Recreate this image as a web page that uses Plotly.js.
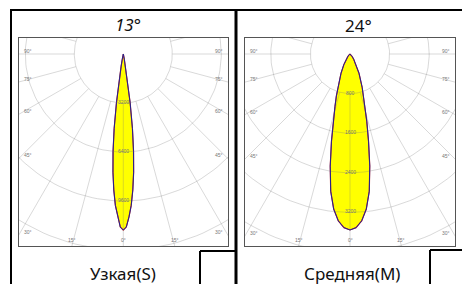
<!DOCTYPE html>
<html><head><meta charset="utf-8">
<script src="https://cdn.plot.ly/plotly-3.0.1.min.js"></script>
<style>html,body{margin:0;padding:0;background:#fff;}#chart{width:462px;height:284px;}</style>
</head><body><div id="chart"></div>
<script>
// ---- data ----
const beamTitles = ['13°', '24°'];
const beamNames = ['Узкая(S)', 'Средняя(M)'];
// narrow beam (13°), luminous intensity, cd, by angle from nadir
const anglesS = [0, 1, 2, 3, 4, 5, 6, 7, 8, 9, 10, 11, 12, 14, 16, 20, 30, 90];
const intensityS = [11500, 11300, 10650, 9900, 8900, 7750, 6400, 4900, 3200, 1700, 800, 350, 150, 60, 30, 10, 0, 0];
// medium beam (24°)
const anglesM = [0, 2, 4, 6, 8, 10, 12, 14, 16, 18, 20, 25, 30, 35, 40, 50, 60, 70, 90];
const intensityM = [3555, 3510, 3380, 3150, 2800, 2300, 1800, 1400, 1100, 890, 720, 430, 250, 130, 70, 25, 10, 0, 0];
const ringLabelsS = ['3200', '6400', '9600'];
const ringLabelsM = ['800', '1600', '2400', '3200'];
const sideAngleLabels = [90, 75, 60, 45, 30];
const bottomAngleLabels = [-15, 0, 15];

// ---- layout geometry (pixels) ----
const W = 462, H = 284;
const panels = [
  {ax: '', title: beamTitles[0], italic: true, name: beamNames[0], angles: anglesS, I: intensityS,
   ringLabels: ringLabelsS, box: [19, 228, 38, 246], origin: [123.3, 54], pxPerUnit: 49 / 3200,
   titlePos: [128, 24], namePos: [123, 273]},
  {ax: '2', title: beamTitles[1], italic: false, name: beamNames[1], angles: anglesM, I: intensityM,
   ringLabels: ringLabelsM, box: [245, 455, 38, 246], origin: [350, 54], pxPerUnit: 39.6 / 800,
   titlePos: [358, 26], namePos: [352, 273]}
];
const rad = d => d * Math.PI / 180;
const traces = [];
const layout = {
  width: W, height: H, margin: {l: 0, r: 0, t: 0, b: 0},
  paper_bgcolor: '#fff', plot_bgcolor: '#fff', showlegend: false,
  annotations: [], shapes: []
};
const small = {family: 'Liberation Sans', size: 5, color: '#777'};

panels.forEach(p => {
  const [x0, x1, y0, y1] = p.box;
  const [ox, oy] = p.origin;
  const k = p.pxPerUnit;
  const xr = [(x0 - ox) / k, (x1 - ox) / k];
  const yr = [-(y1 - oy) / k, (oy - y0) / k];
  const xa = 'x' + p.ax, ya = 'y' + p.ax;
  const axBase = {showgrid: false, zeroline: false, showticklabels: false, ticks: '',
    showline: true, mirror: true, linecolor: '#555', linewidth: 1, fixedrange: true};
  layout['xaxis' + p.ax] = Object.assign({}, axBase, {domain: [x0 / W, x1 / W], range: xr, anchor: ya});
  layout['yaxis' + p.ax] = Object.assign({}, axBase, {domain: [1 - y1 / H, 1 - y0 / H], range: yr, anchor: xa});

  const step = +p.ringLabels[0];
  const rMax = Math.max(...[[xr[0], yr[0]], [xr[1], yr[0]], [xr[0], yr[1]], [xr[1], yr[1]]].map(c => Math.hypot(c[0], c[1])));

  // lobe (mirror C0 / C180)
  const lx = [], ly = [];
  for (let i = p.angles.length - 1; i >= 0; i--) { const a = rad(-p.angles[i]); lx.push(p.I[i] * Math.sin(a)); ly.push(-p.I[i] * Math.cos(a)); }
  for (let i = 1; i < p.angles.length; i++) { const a = rad(p.angles[i]); lx.push(p.I[i] * Math.sin(a)); ly.push(-p.I[i] * Math.cos(a)); }
  traces.push({type: 'scatter', mode: 'lines', xaxis: xa, yaxis: ya, x: lx, y: ly, fill: 'toself',
    fillcolor: '#ffff00', line: {color: '#c83030', width: 1.2}, hoverinfo: 'skip'});

  // grid rings
  const gx = [], gy = [];
  for (let r = step; r <= rMax + step; r += step) {
    for (let d = 0; d <= 360; d += 2) { gx.push(r * Math.sin(rad(d))); gy.push(-r * Math.cos(rad(d))); }
    gx.push(null); gy.push(null);
  }
  // radial lines
  for (let d = 0; d < 360; d += 15) {
    gx.push(step * Math.sin(rad(d)), (rMax + step) * Math.sin(rad(d)), null);
    gy.push(-step * Math.cos(rad(d)), -(rMax + step) * Math.cos(rad(d)), null);
  }
  traces.push({type: 'scatter', mode: 'lines', xaxis: xa, yaxis: ya, x: gx, y: gy,
    line: {color: 'rgba(120,120,120,0.28)', width: 1}, hoverinfo: 'skip'});
  // outline on top
  traces.push({type: 'scatter', mode: 'lines', xaxis: xa, yaxis: ya, x: lx, y: ly,
    line: {color: '#22228f', width: 1}, hoverinfo: 'skip'});

  // ring labels
  p.ringLabels.forEach(t => layout.annotations.push({xref: xa, yref: ya, x: 0, y: -(+t), text: t,
    showarrow: false, font: small, yshift: 1}));
  // side angle labels
  sideAngleLabels.forEach(a => {
    const yl = a === 90 ? 0 : xr[0] / Math.tan(rad(a));
    [[xr[0], 'left', 3], [xr[1], 'right', -3]].forEach(([xx, anc, sh]) => layout.annotations.push({
      xref: xa, yref: ya, x: xx, y: -Math.abs(yl), text: a + '°', showarrow: false, xanchor: anc, xshift: sh, yshift: 3,
      font: small}));
  });
  bottomAngleLabels.forEach(a => layout.annotations.push({xref: xa, yref: ya,
    x: Math.tan(rad(a)) * yr[0] * -1, y: yr[0], text: Math.abs(a) + '°', showarrow: false, yanchor: 'bottom', yshift: 1,
    font: small}));

  // titles
  layout.annotations.push({xref: 'paper', yref: 'paper', x: p.titlePos[0] / W, y: 1 - p.titlePos[1] / H,
    xanchor: 'center', yanchor: 'middle',
    text: p.italic ? '<i>' + p.title + '</i>' : p.title, showarrow: false,
    font: {family: 'Noto Sans', size: 17, color: '#111'}});
  layout.annotations.push({xref: 'paper', yref: 'paper', x: p.namePos[0] / W, y: 1 - p.namePos[1] / H,
    xanchor: 'center', yanchor: 'middle',
    text: p.name, showarrow: false, font: {family: 'Noto Sans', size: 17, color: '#111'}});
});

// frame lines
const seg = (xa0, ya0, xa1, ya1, w) => layout.shapes.push({type: 'line', xref: 'paper', yref: 'paper',
  x0: xa0 / W, y0: 1 - ya0 / H, x1: xa1 / W, y1: 1 - ya1 / H, line: {color: '#000', width: w}});
seg(10, 10, 462, 10, 2);
seg(11, 10, 11, 284, 2);
seg(236, 10, 236, 284, 3);
seg(200, 251, 236, 251, 2);
seg(200, 251, 200, 284, 2);
seg(430, 250, 462, 250, 2);
seg(430, 250, 430, 284, 2);

Plotly.newPlot('chart', traces, layout, {displayModeBar: false, staticPlot: true});
</script></body></html>
